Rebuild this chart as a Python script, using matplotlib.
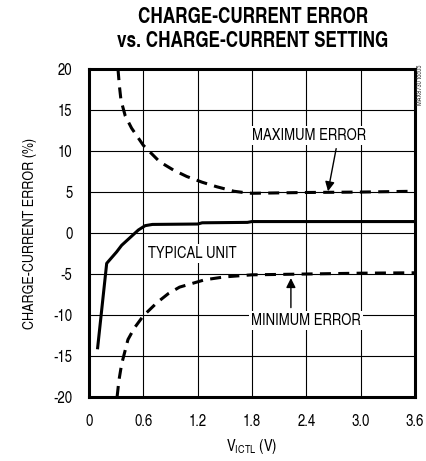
import matplotlib
matplotlib.use('Agg')
import matplotlib.pyplot as plt

plt.rcParams['font.family'] = ['TeX Gyre Heros Cn', 'Roboto Condensed', 'Liberation Sans', 'DejaVu Sans']
plt.rcParams['axes.unicode_minus'] = False
plt.rcParams['mathtext.fontset'] = 'custom'
plt.rcParams['mathtext.rm'] = 'TeX Gyre Heros Cn'

# Данные кривых
typ_v = [0.095, 0.195, 0.305, 0.36, 0.545, 0.62, 0.7, 1.2, 1.25, 1.75, 1.8, 3.6]
typ_err = [-14.0, -3.7, -2.3, -1.5, 0.37, 0.9, 1.05, 1.1, 1.25, 1.3, 1.4, 1.4]

max_v = [0.32, 0.335, 0.353, 0.40, 0.47, 0.6, 0.78, 0.93, 1.08, 1.25, 1.41, 1.6, 1.74, 1.8, 2.4, 3.0, 3.6]
max_err = [20.0, 18.0, 16.2, 14.3, 12.8, 10.7, 8.7, 7.7, 6.9, 6.2, 5.65, 5.1, 4.9, 4.85, 4.95, 5.0, 5.1]

min_v = [0.31, 0.33, 0.36, 0.43, 0.5, 0.6, 0.75, 0.875, 1.0, 1.28, 1.5, 1.8, 2.4, 3.0, 3.6]
min_err = [-20.0, -18.0, -16.0, -13.0, -11.6, -10.1, -8.5, -7.4, -6.6, -5.7, -5.35, -5.1, -5.0, -4.9, -4.85]

x_ticks = [0, 0.6, 1.2, 1.8, 2.4, 3.0, 3.6]
x_labels = ['0', '0.6', '1.2', '1.8', '2.4', '3.0', '3.6']
y_ticks = [-20, -15, -10, -5, 0, 5, 10, 15, 20]

fig = plt.figure(figsize=(4.26, 4.61), dpi=100)
ax = fig.add_axes([0.209, 0.139, 0.765, 0.711])

ax.plot(typ_v, typ_err, color='black', linewidth=2.2, solid_joinstyle='round', zorder=3)
ax.plot(max_v, max_err, color='black', linewidth=2.2, dashes=(3.6, 2.4), zorder=3)
ax.plot(min_v, min_err, color='black', linewidth=2.2, dashes=(3.6, 2.4), zorder=3)

ax.set_xlim(0, 3.6)
ax.set_ylim(-20, 20)
ax.set_xticks(x_ticks)
ax.set_xticklabels(x_labels)
ax.set_yticks(y_ticks)
ax.tick_params(length=0, labelsize=11.5, pad=12)
ax.grid(True, color='black', linewidth=0.8)
ax.set_axisbelow(True)
for s in ax.spines.values():
    s.set_linewidth(2.2)

ax.set_xlabel(r'V$_{\mathregular{ICTL}}$ (V)', fontsize=11.5, labelpad=6)
ax.set_ylabel('CHARGE-CURRENT ERROR (%)', fontsize=11, labelpad=12)

box = dict(facecolor='white', edgecolor='none', pad=1.5)
ax.text(2.43, 11.9, 'MAXIMUM ERROR', fontsize=11.5, ha='center', va='center', bbox=box, zorder=2)
ax.text(2.4, -10.7, 'MINIMUM ERROR', fontsize=11.5, ha='center', va='center', bbox=box, zorder=2)
ax.text(1.14, -2.45, 'TYPICAL UNIT', fontsize=11.5, ha='center', va='center', bbox=box, zorder=2)

arrow = dict(arrowstyle='-|>', color='black', linewidth=1.0, mutation_scale=14, shrinkA=0, shrinkB=0)
ax.annotate('', xy=(2.64, 5.1), xytext=(2.73, 10.3), arrowprops=arrow, zorder=4)
ax.annotate('', xy=(2.23, -5.5), xytext=(2.23, -9.1), arrowprops=arrow, zorder=4)

fig.text(0.594, 0.962, 'CHARGE-CURRENT ERROR', fontsize=15, fontweight='bold', ha='center', va='center')
fig.text(0.594, 0.910, 'vs. CHARGE-CURRENT SETTING', fontsize=15, fontweight='bold', ha='center', va='center')
fig.text(0.988, 0.86, 'MAX8730 toc05', fontsize=5, rotation=90, ha='center', va='top', color='#333333')

fig.savefig('out.png', dpi=100)
